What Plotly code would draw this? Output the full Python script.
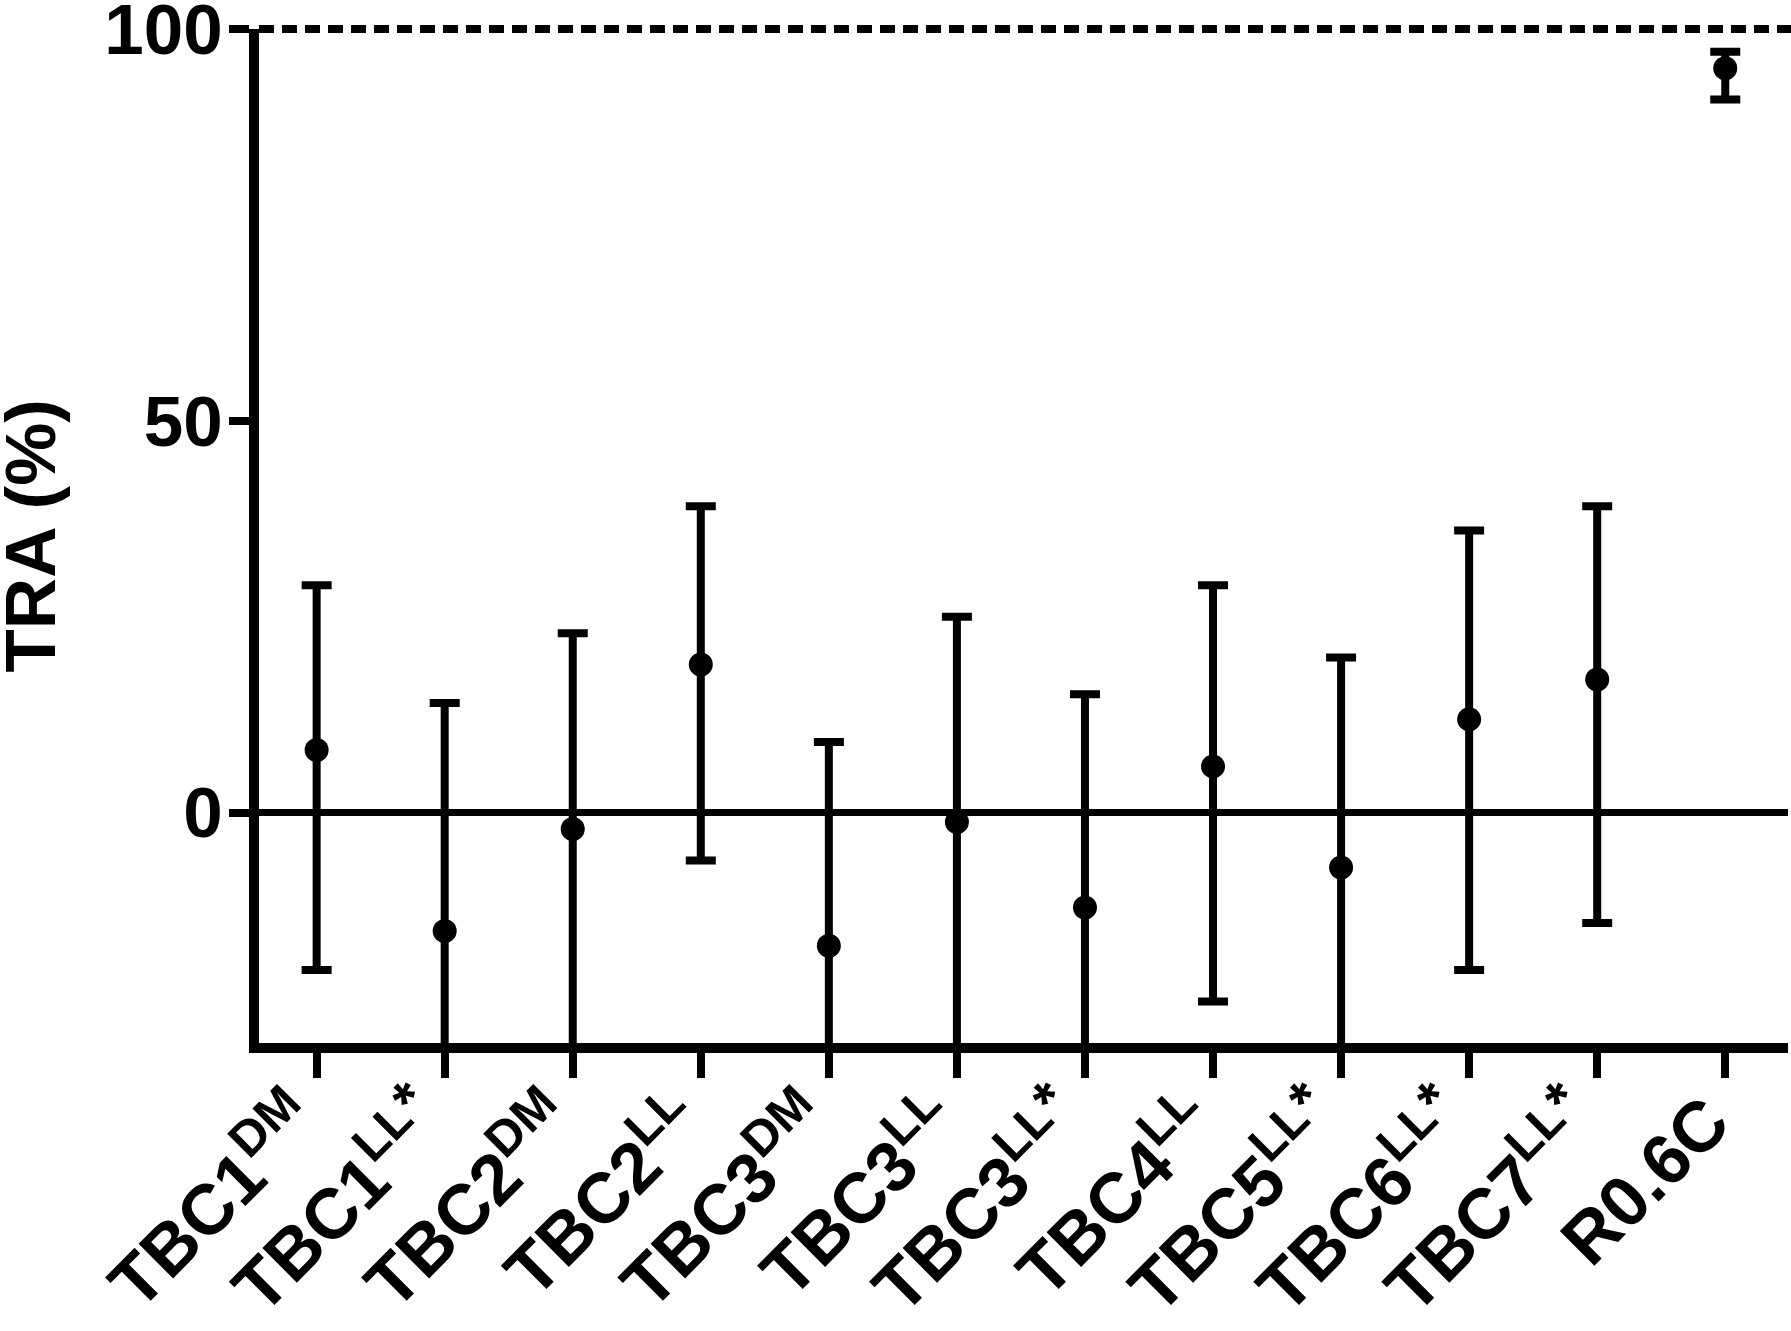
import plotly.graph_objects as go

# TRA (%) per construct: mean and the ends of the interval
strains = ["TBC1", "TBC1", "TBC2", "TBC2", "TBC3", "TBC3", "TBC3", "TBC4", "TBC5", "TBC6", "TBC7", "R0.6C"]
variants = ["DM", "LL*", "DM", "LL", "DM", "LL", "LL*", "LL", "LL*", "LL*", "LL*", ""]
tra_mean = [8.0, -15.1, -2.1, 18.9, -17.0, -1.2, -12.1, 5.9, -7.0, 11.9, 17.0, 95.0]
tra_upper = [29.0, 14.0, 22.9, 39.1, 9.0, 25.0, 15.1, 29.0, 19.8, 36.0, 39.1, 97.1]
tra_lower = [-20.1, -47.0, -33.0, -6.1, -46.0, -33.0, -43.0, -24.1, -38.0, -20.1, -14.1, 91.0]


def label(strain, variant):
    if not variant:
        return strain
    # a slightly bigger asterisk so it sits above the superscript letters
    variant = variant.replace("*", '<span style="font-size:58px">*</span>')
    return f"{strain}<sup>{variant}</sup>"


labels = [label(s, v) for s, v in zip(strains, variants)]
err_plus = [u - m for u, m in zip(tra_upper, tra_mean)]
err_minus = [m - l for m, l in zip(tra_mean, tra_lower)]

FONT = "Liberation Sans, Arial, sans-serif"

fig = go.Figure(go.Scatter(
    x=labels,
    y=tra_mean,
    mode="markers",
    marker=dict(color="black", size=24),
    error_y=dict(type="data", symmetric=False, array=err_plus, arrayminus=err_minus,
                 color="black", thickness=8, width=15),
    showlegend=False,
))

fig.update_layout(
    width=1791,
    height=1331,
    margin=dict(l=259, r=3, t=29, b=288),
    paper_bgcolor="white",
    plot_bgcolor="white",
    font=dict(family=FONT, color="black", size=71, weight="bold"),
    xaxis=dict(
        range=[-0.45, 11.49],
        showline=True, linecolor="black", linewidth=10,
        ticks="outside", ticklen=25, tickwidth=8, tickcolor="black",
        tickangle=-45, tickfont=dict(size=71, family=FONT, weight="bold"),
        ticklabelstandoff=-26, ticklabelshift=-17, ticklabeloverflow="allow",
        showgrid=False, zeroline=False, automargin=False,
    ),
    yaxis=dict(
        range=[-29.4, 100],
        tickvals=[0, 50, 100],
        showline=True, linecolor="black", linewidth=10,
        ticks="outside", ticklen=20, tickwidth=8, tickcolor="black",
        tickfont=dict(size=71, family=FONT, weight="bold"),
        ticklabelstandoff=-8, ticklabeloverflow="allow",
        showgrid=False, zeroline=True, zerolinecolor="black", zerolinewidth=7,
        automargin=False,
    ),
    shapes=[dict(type="line", xref="paper", yref="paper", x0=0, x1=1.01, y0=1, y1=1,
                 line=dict(color="black", width=8, dash="15px,8px"))],
    annotations=[dict(text="TRA (%)", textangle=-90, xref="paper", yref="paper",
                      x=0, y=0.5, xanchor="right", yanchor="middle", xshift=-188,
                      showarrow=False, font=dict(size=71, family=FONT, weight="bold"))],
)

fig.write_html("out.html", config={"displayModeBar": False},
               post_script="document.body.style.margin = '0';")
